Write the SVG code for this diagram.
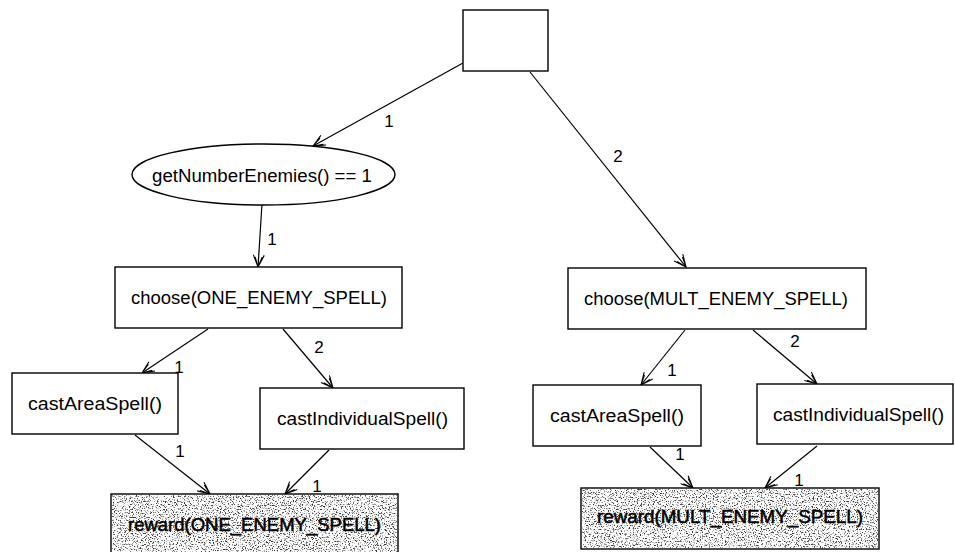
<svg xmlns="http://www.w3.org/2000/svg" width="955" height="552" viewBox="0 0 955 552">
  <style>
    .box { fill: #ffffff; stroke: #000000; stroke-width: 1.4; }
    .edge { fill: none; stroke: #000000; stroke-width: 1.2; marker-end: url(#open-arrow); }
    .txt { font-family: "Liberation Sans", Arial, sans-serif; font-size: 17.5px; fill: #000000; text-anchor: middle; }
    .lbl { font-family: "Liberation Sans", Arial, sans-serif; font-size: 17px; fill: #000000; text-anchor: middle; }
    .grain { fill: #000000; filter: url(#speckle); }
    .heavy { stroke: #000000; stroke-width: 0.5; }
  </style>
  <defs>
    <marker id="open-arrow" markerUnits="userSpaceOnUse" viewBox="0 0 14 12" refX="13" refY="6" markerWidth="14" markerHeight="12" orient="auto">
      <path d="M1,0.5 L13,6 L1,11.5 M3,2.5 L13,6 L3,9.5" fill="none" stroke="#000000" stroke-width="1.1"/>
    </marker>
    <!-- speckled stipple used for the reward boxes -->
    <filter id="speckle" x="0" y="0" width="100%" height="100%" color-interpolation-filters="sRGB">
      <feTurbulence type="fractalNoise" baseFrequency="0.75" numOctaves="4" seed="7" result="noise"/>
      <feColorMatrix in="noise" type="matrix" values="0 0 0 0 0.2  0 0 0 0 0.2  0 0 0 0 0.2  -5 0 0 0 2.4" result="dots"/>
      <feComposite in="dots" in2="SourceGraphic" operator="in"/>
    </filter>
  </defs>

  <!-- connectors -->
  <g id="connectors">
    <path class="edge" d="M463,63 L313,146"/>
    <path class="edge" d="M530,72 L686,267"/>
    <path class="edge" d="M262,204 L258,267"/>
    <path class="edge" d="M208,329 L142,373"/>
    <path class="edge" d="M283,329 L333,388"/>
    <path class="edge" d="M135,435 L210,494"/>
    <path class="edge" d="M329,450 L285,494"/>
    <path class="edge" d="M685,330 L641,385"/>
    <path class="edge" d="M753,330 L817,384"/>
    <path class="edge" d="M650,447 L693,488"/>
    <path class="edge" d="M817,446 L765,488"/>
    <text class="lbl" x="389" y="127">1</text>
    <text class="lbl" x="618" y="162">2</text>
    <text class="lbl" x="272" y="245">1</text>
    <text class="lbl" x="179" y="373">1</text>
    <text class="lbl" x="319" y="353">2</text>
    <text class="lbl" x="180" y="457">1</text>
    <text class="lbl" x="317" y="492">1</text>
    <text class="lbl" x="672" y="376">1</text>
    <text class="lbl" x="795" y="347">2</text>
    <text class="lbl" x="680" y="460">1</text>
    <text class="lbl" x="799" y="486">1</text>
  </g>

  <g id="root">
    <rect class="box" x="463" y="10" width="85" height="61"/>
  </g>

  <g id="condition">
    <ellipse class="box" cx="263.5" cy="174.5" rx="131.5" ry="30.5"/>
    <text class="txt" x="262" y="182" textLength="220" lengthAdjust="spacingAndGlyphs">getNumberEnemies() == 1</text>
  </g>

  <g id="choose-one">
    <rect class="box" x="115" y="267" width="287" height="61"/>
    <text class="txt" x="259" y="304" textLength="256" lengthAdjust="spacingAndGlyphs">choose(ONE_ENEMY_SPELL)</text>
  </g>

  <g id="area-one">
    <rect class="box" x="12" y="373" width="166" height="61"/>
    <text class="txt" x="95" y="410" textLength="134" lengthAdjust="spacingAndGlyphs">castAreaSpell()</text>
  </g>

  <g id="individual-one">
    <rect class="box" x="260" y="388" width="204" height="61"/>
    <text class="txt" x="362.5" y="425" textLength="171" lengthAdjust="spacingAndGlyphs">castIndividualSpell()</text>
  </g>

  <g id="reward-one">
    <rect class="box" x="111" y="494" width="287" height="62"/>
    <rect class="grain" x="112" y="495" width="285" height="60"/>
    <text class="txt heavy" x="254.5" y="531" textLength="253" lengthAdjust="spacingAndGlyphs">reward(ONE_ENEMY_SPELL)</text>
  </g>

  <g id="choose-mult">
    <rect class="box" x="568" y="268" width="298" height="61"/>
    <text class="txt" x="716" y="305" textLength="264" lengthAdjust="spacingAndGlyphs">choose(MULT_ENEMY_SPELL)</text>
  </g>

  <g id="area-mult">
    <rect class="box" x="533" y="385" width="168" height="61"/>
    <text class="txt" x="617" y="422" textLength="134" lengthAdjust="spacingAndGlyphs">castAreaSpell()</text>
  </g>

  <g id="individual-mult">
    <rect class="box" x="757" y="384" width="196" height="60"/>
    <text class="txt" x="858.5" y="421" textLength="171" lengthAdjust="spacingAndGlyphs">castIndividualSpell()</text>
  </g>

  <g id="reward-mult">
    <rect class="box" x="581" y="488" width="298" height="61"/>
    <rect class="grain" x="582" y="489" width="296" height="59"/>
    <text class="txt heavy" x="730" y="523" textLength="266" lengthAdjust="spacingAndGlyphs">reward(MULT_ENEMY_SPELL)</text>
  </g>
</svg>
